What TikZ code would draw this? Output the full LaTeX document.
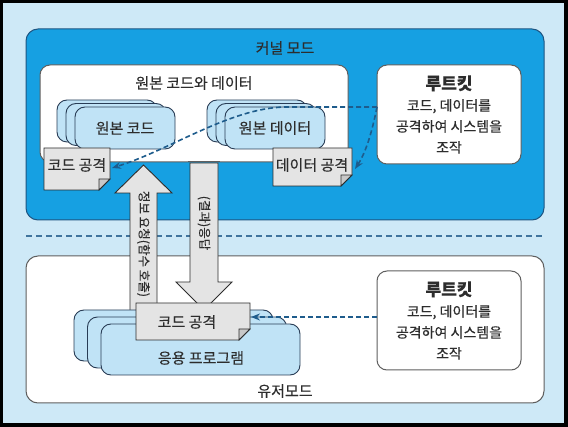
\documentclass[tikz,border=0pt]{standalone}
\usepackage{fontspec}
\setmainfont{Noto Sans CJK KR}[FakeBold=0.3]
\usetikzlibrary{arrows.meta}
\definecolor{bgblue}{RGB}{206,233,247}
\definecolor{kblue}{RGB}{22,160,226}
\definecolor{kedge}{RGB}{30,85,130}
\definecolor{stackfill}{RGB}{192,227,246}
\definecolor{stackedge}{RGB}{40,60,85}
\definecolor{notefill}{RGB}{228,228,228}
\definecolor{notefold}{RGB}{200,200,200}
\definecolor{txt}{RGB}{45,45,45}
\definecolor{dashblue}{RGB}{30,92,140}
\definecolor{boxedge}{RGB}{95,95,95}
\tikzset{
  kernelbox/.style={draw=kedge,line width=1pt,fill=kblue,rounded corners=12pt,inner sep=0pt,outer sep=0pt},
  whitebox/.style={draw=boxedge,line width=1pt,fill=white,rounded corners=10pt,inner sep=0pt,outer sep=0pt},
  stackbox/.style={draw=stackedge,line width=0.9pt,fill=stackfill,rounded corners=10pt,inner sep=0pt,outer sep=0pt,minimum width=100pt,minimum height=42pt},
  appbox/.style={stackbox,minimum width=199pt,minimum height=51pt},
  notebody/.style={draw=txt,line width=0.8pt,fill=notefill},
  notefoldst/.style={draw=txt,line width=0.8pt,fill=notefold},
  bigarrow/.style={draw=txt,line width=0.9pt,fill=notefill},
  lbl/.style={text=txt,font=\fontsize{15}{17}\selectfont,inner sep=0pt},
  arrowlbl/.style={text=txt,font=\fontsize{12.5}{14}\selectfont,inner sep=0pt,rotate=-90},
  rkbody/.style={text=txt,font=\fontsize{14}{21}\selectfont,align=center,inner sep=0pt},
  attack/.style={draw=dashblue,line width=1.6pt,dash pattern=on 5pt off 3pt,-{Stealth[length=9pt,width=7pt]}},
  sep/.style={draw=dashblue!85,line width=1.4pt,dash pattern=on 6pt off 4pt}
}
\newcommand{\notepath}[4]{%
  \path[notebody] (#1,#2) -- (#3,#2) -- (#3,#4-11) -- (#3-11,#4) -- (#1,#4) -- cycle;
  \path[notefoldst] (#3,#4-11) -- (#3-11,#4-11) -- (#3-11,#4) -- cycle;}
\begin{document}
\begin{tikzpicture}[x=1pt,y=-1pt]
\useasboundingbox (0,0) rectangle (568,427);
\fill[black] (0,0) rectangle (568,427);
\fill[bgblue] (3,3) rectangle (564,423);

% kernel mode
\node[kernelbox,minimum width=518pt,minimum height=191pt] (kernel) at (285,124.5) {};
\node[lbl] (kernellbl) at (285,48) {커널 모드};

% user mode
\node[whitebox,minimum width=518pt,minimum height=147pt,rounded corners=12pt] (user) at (285,329.5) {};
\node[lbl] (userlbl) at (285,391) {유저모드};

% separator
\coordinate (sepL) at (26,236);
\coordinate (sepR) at (544,236);
\draw[sep] (sepL) -- (sepR);

% original code and data
\node[whitebox,minimum width=308pt,minimum height=97pt] (orig) at (194,113.5) {};
\node[lbl] (origlbl) at (194,83) {원본 코드와 데이터};

\node[stackbox] (codeA) at (107,121) {};
\node[stackbox] (codeB) at (116,124.5) {};
\node[stackbox] (codeC) at (125,128) {};
\node[lbl] (codelbl) at (125,128) {원본 코드};

\node[stackbox] (dataA) at (257,121) {};
\node[stackbox] (dataB) at (266,124.5) {};
\node[stackbox] (dataC) at (275,128) {};
\node[lbl] (datalbl) at (275,128) {원본 데이터};

% rootkit boxes
\node[whitebox,minimum width=144pt,minimum height=99pt] (rk1) at (449,114.5) {};
\node[rkbody] (rk1txt) at (449,114.5) {{\bfseries\fontsize{17}{21}\selectfont 루트킷}\\코드, 데이터를\\공격하여 시스템을\\조작};
\node[whitebox,minimum width=144pt,minimum height=99pt] (rk2) at (449,320.5) {};
\node[rkbody] (rk2txt) at (449,320.5) {{\bfseries\fontsize{17}{21}\selectfont 루트킷}\\코드, 데이터를\\공격하여 시스템을\\조작};

% big arrows
\path[bigarrow] (143.5,165) -- (172,193) -- (157,193) -- (157,312) -- (130,312) -- (130,193) -- (115,193) -- cycle;
\node[arrowlbl] (reqlbl) at (143.5,244) {정보 요청(함수 호출)};
\path[bigarrow] (190,163) -- (218,163) -- (218,282) -- (232,282) -- (204,310) -- (176,282) -- (190,282) -- cycle;
\draw[boxedge,line width=1pt] (188,162) -- (220,162);
\node[arrowlbl] (resplbl) at (204,223) {(결과)응답};

% application stack
\node[appbox] (appA) at (173.5,335.5) {};
\node[appbox] (appB) at (187,342.5) {};
\node[appbox] (appC) at (200.5,349.5) {};
\node[lbl] (applbl) at (201,358) {응용 프로그램};

% attack notes
\notepath{44}{148}{110}{190}
\node[lbl] (note1) at (77,165) {코드 공격};
\notepath{273}{148}{352}{186}
\node[lbl] (note2) at (312,165) {데이터 공격};
\notepath{136}{303}{250}{340}
\node[lbl] (note3) at (187,322) {코드 공격};

% attack connectors
\coordinate (s1) at (377,107);
\coordinate (e1) at (112,168);
\coordinate (e2) at (355,169);
\coordinate (s3) at (377,317);
\coordinate (e3) at (251,317);
\draw[attack] (s1) -- (285,107) .. controls (230,108) and (170,150) .. (e1);
\draw[attack] (s1) .. controls (372,132) and (366,152) .. (e2);
\draw[attack] (s3) -- (e3);
\end{tikzpicture}
\end{document}
